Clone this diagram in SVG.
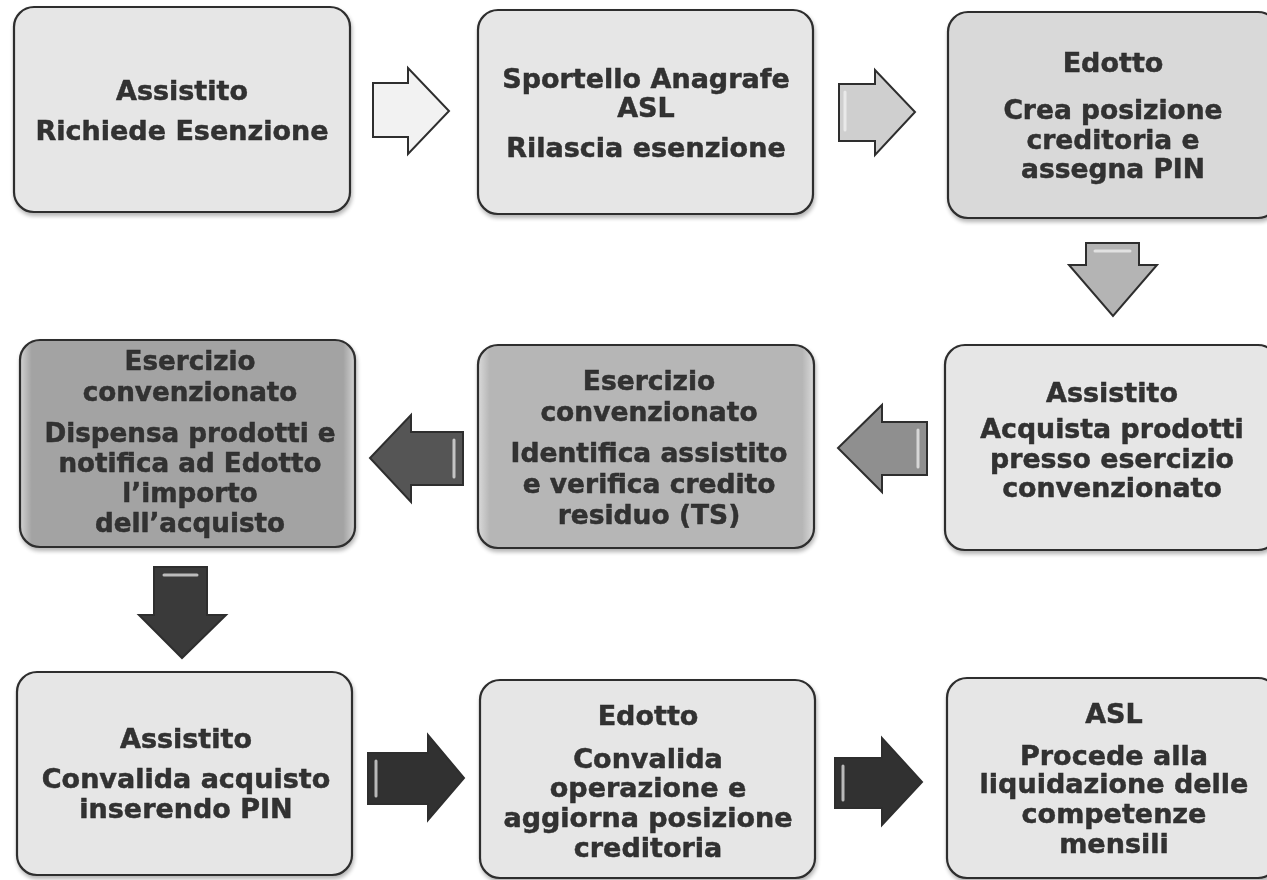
<svg xmlns="http://www.w3.org/2000/svg" width="1267" height="880" viewBox="0 0 1267 880">
<defs>
<style>
.box{stroke:#2e2e2e;stroke-width:2.2}
.light{fill:#e6e6e6}
.t{font-family:"DejaVu Sans","Verdana",sans-serif;font-weight:bold;font-size:27px;fill:#303030;stroke:#303030;stroke-width:0.5;text-anchor:middle}
.arr{stroke:#2e2e2e;stroke-width:2;stroke-linejoin:miter}
.hl{fill:none;stroke:#f4f4f4;stroke-width:3;stroke-linecap:round;opacity:0.7}
</style>
<linearGradient id="g4" x1="0" y1="0" x2="1" y2="0">
<stop offset="0" stop-color="#d2d2d2"/>
<stop offset="0.035" stop-color="#a3a3a3"/>
<stop offset="0.965" stop-color="#a3a3a3"/>
<stop offset="1" stop-color="#d2d2d2"/>
</linearGradient>
<linearGradient id="g5" x1="0" y1="0" x2="1" y2="0">
<stop offset="0" stop-color="#dadada"/>
<stop offset="0.035" stop-color="#b6b6b6"/>
<stop offset="0.965" stop-color="#b6b6b6"/>
<stop offset="1" stop-color="#dadada"/>
</linearGradient>
<filter id="sh" x="-5%" y="-5%" width="110%" height="115%">
<feGaussianBlur in="SourceAlpha" stdDeviation="2"/>
<feOffset dx="1" dy="3" result="b"/>
<feComponentTransfer><feFuncA type="linear" slope="0.3"/></feComponentTransfer>
<feMerge><feMergeNode/><feMergeNode in="SourceGraphic"/></feMerge>
</filter>
</defs>
<rect width="1267" height="880" fill="#ffffff"/>

<g id="connectors">
<polygon class="arr" fill="#f2f2f2" points="373,83 408,83 408,68 449,111 408,154 408,137 373,137"/>
<polygon class="arr" fill="#cfcfcf" points="839,84 875,84 875,70 915,112 875,155 875,141 839,141"/>
<line class="hl" x1="845" y1="92" x2="845" y2="130"/>
<polygon class="arr" fill="#b4b4b4" points="1086,243 1139,243 1139,265 1157,265 1113,316 1069,265 1086,265"/>
<line class="hl" x1="1095" y1="251" x2="1130" y2="251"/>
<polygon class="arr" fill="#8f8f8f" points="927,422 882,422 882,405 838,448 882,492 882,475 927,475"/>
<line class="hl" x1="918" y1="430" x2="918" y2="467"/>
<polygon class="arr" fill="#555555" points="463,432 411,432 411,415 370,458 411,502 411,485 463,485"/>
<line class="hl" x1="454" y1="440" x2="454" y2="477"/>
<polygon class="arr" fill="#3a3a3a" points="154,567 207,567 207,615 226,615 182,658 139,615 154,615"/>
<line class="hl" x1="164" y1="575" x2="197" y2="575"/>
<polygon class="arr" fill="#313131" points="368,753 428,753 428,735 464,778 428,820 428,804 368,804"/>
<line class="hl" x1="376" y1="761" x2="376" y2="796"/>
<polygon class="arr" fill="#313131" points="835,758 882,758 882,738 922,782 882,825 882,808 835,808"/>
<line class="hl" x1="843" y1="766" x2="843" y2="800"/>
</g>

<g id="n1" filter="url(#sh)">
<rect class="box light" x="14" y="7" width="336" height="205" rx="20"/>
<text class="t" x="182" y="100">Assistito</text>
<text class="t" x="182" y="140">Richiede Esenzione</text>
</g>

<g id="n2" filter="url(#sh)">
<rect class="box light" x="478" y="10" width="335" height="204" rx="20"/>
<text class="t" x="646" y="88">Sportello Anagrafe</text>
<text class="t" x="646" y="117">ASL</text>
<text class="t" x="646" y="157">Rilascia esenzione</text>
</g>

<g id="n3" filter="url(#sh)">
<rect class="box" fill="#d9d9d9" x="948" y="12" width="330" height="206" rx="20"/>
<text class="t" x="1113" y="72">Edotto</text>
<text class="t" x="1113" y="119" style="font-size:26.5px">Crea posizione</text>
<text class="t" x="1113" y="148.5" style="font-size:26.5px">creditoria e</text>
<text class="t" x="1113" y="178" style="font-size:26.5px">assegna PIN</text>
</g>

<g id="n4" filter="url(#sh)">
<rect class="box" fill="url(#g4)" x="20" y="340" width="335" height="207" rx="20"/>
<text class="t" x="190" y="370" style="font-size:26.2px">Esercizio</text>
<text class="t" x="190" y="401" style="font-size:26.2px">convenzionato</text>
<text class="t" x="190" y="442" style="font-size:26.2px">Dispensa prodotti e</text>
<text class="t" x="190" y="472" style="font-size:26.2px">notifica ad Edotto</text>
<text class="t" x="190" y="502" style="font-size:26.2px">l’importo</text>
<text class="t" x="190" y="532" style="font-size:26.2px">dell’acquisto</text>
</g>

<g id="n5" filter="url(#sh)">
<rect class="box" fill="url(#g5)" x="478" y="345" width="336" height="203" rx="20"/>
<text class="t" x="649" y="390" style="font-size:26.5px">Esercizio</text>
<text class="t" x="649" y="421" style="font-size:26.5px">convenzionato</text>
<text class="t" x="649" y="462" style="font-size:26.5px">Identifica assistito</text>
<text class="t" x="649" y="493" style="font-size:26.5px">e verifica credito</text>
<text class="t" x="649" y="524" style="font-size:26.5px">residuo (TS)</text>
</g>

<g id="n6" filter="url(#sh)">
<rect class="box light" x="945" y="345" width="333" height="205" rx="20"/>
<text class="t" x="1112" y="402" style="font-size:27px">Assistito</text>
<text class="t" x="1112" y="438" style="font-size:26.8px">Acquista prodotti</text>
<text class="t" x="1112" y="467.5" style="font-size:26.8px">presso esercizio</text>
<text class="t" x="1112" y="497" style="font-size:26.8px">convenzionato</text>
</g>

<g id="n7" filter="url(#sh)">
<rect class="box light" x="17" y="672" width="335" height="203" rx="20"/>
<text class="t" x="186" y="748">Assistito</text>
<text class="t" x="186" y="788">Convalida acquisto</text>
<text class="t" x="186" y="818">inserendo PIN</text>
</g>

<g id="n8" filter="url(#sh)">
<rect class="box light" x="480" y="680" width="335" height="198" rx="20"/>
<text class="t" x="648" y="725">Edotto</text>
<text class="t" x="648" y="768">Convalida</text>
<text class="t" x="648" y="797">operazione e</text>
<text class="t" x="648" y="827">aggiorna posizione</text>
<text class="t" x="648" y="857">creditoria</text>
</g>

<g id="n9" filter="url(#sh)">
<rect class="box light" x="947" y="678" width="331" height="200" rx="20"/>
<text class="t" x="1114" y="723">ASL</text>
<text class="t" x="1114" y="765">Procede alla</text>
<text class="t" x="1114" y="793">liquidazione delle</text>
<text class="t" x="1114" y="823">competenze</text>
<text class="t" x="1114" y="853">mensili</text>
</g>
</svg>
